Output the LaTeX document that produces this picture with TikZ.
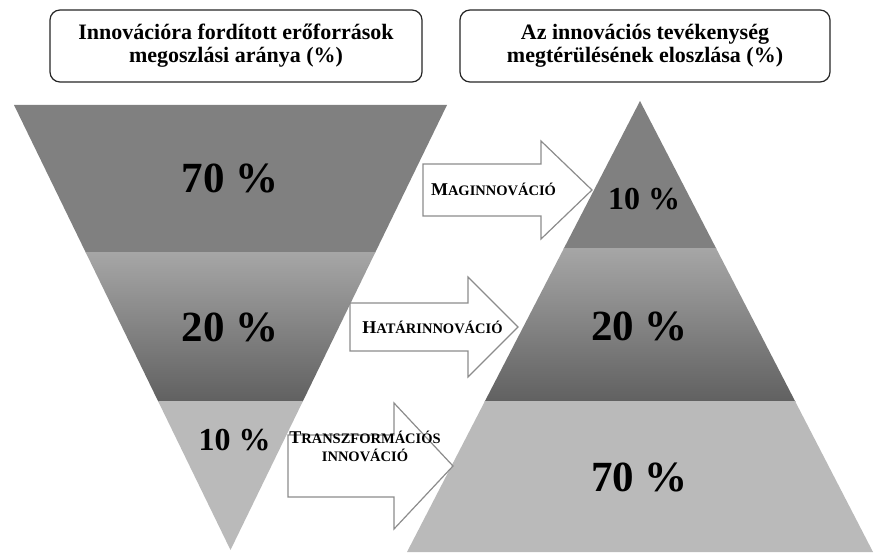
\documentclass[tikz,border=0pt]{standalone}
\usepackage{fontspec}
\setmainfont{Liberation Serif}
\usetikzlibrary{positioning}

\definecolor{bandDark}{gray}{0.50}
\definecolor{bandMidTop}{gray}{0.65}
\definecolor{bandMidBot}{gray}{0.38}
\definecolor{bandLight}{gray}{0.73}
\definecolor{arrowEdge}{gray}{0.55}

% small caps by hand: first letter large, rest small
\newcommand{\fakesc}[2]{{\fontsize{18}{18}\selectfont #1}{\fontsize{14.5}{18}\selectfont #2}}

% block arrow: start x, head x, tip x, centre y, half body, half head
\newcommand{\innoarrow}[6]{%
  \draw[arrowbox] (#1,#4-#5) -- (#2,#4-#5) -- (#2,#4-#6) -- (#3,#4)
    -- (#2,#4+#6) -- (#2,#4+#5) -- (#1,#4+#5) -- cycle;}

\begin{document}
\begin{tikzpicture}[
            x=1pt, y=-1pt,
            title/.style={draw=black!85, line width=1.2pt, rounded corners=10pt, fill=white, minimum width=372pt, minimum height=72pt, align=center, font=\fontsize{22}{23}\selectfont\bfseries},
            pct/.style={font=\fontsize{43}{43}\selectfont\bfseries, inner sep=0pt},
            pctsmall/.style={font=\fontsize{32}{32}\selectfont\bfseries, inner sep=0pt},
            arrowbox/.style={draw=arrowEdge, line width=1.2pt, fill=white, line join=miter},
            arrowlabel/.style={font=\fontsize{14.5}{18}\selectfont\bfseries, align=center, inner sep=0pt, anchor=base}
        ]

        \useasboundingbox (0,0) rectangle (881,553);

        % titles
        \node[title] (leftTitle) at (236,46) {Innovációra fordított erőforrások\\megoszlási aránya (\%)};
        \node[title, minimum width=370pt] (rightTitle) at (645,46) {Az innovációs tevékenység\\megtérülésének eloszlása (\%)};

        % inverted triangle
        \begin{scope}
            \clip (14,105) -- (447,105) -- (230.5,550) -- cycle;
            \fill[bandDark] (0,100) rectangle (460,253);
            \shade[top color=bandMidTop, bottom color=bandMidBot] (0,253) rectangle (460,401);
            \fill[bandLight] (0,401) rectangle (460,553);
        \end{scope}

        % pyramid
        \begin{scope}
            \clip (640,101) -- (873,552) -- (407,552) -- cycle;
            \fill[bandDark] (400,95) rectangle (881,249);
            \shade[top color=bandMidTop, bottom color=bandMidBot] (400,249) rectangle (881,401);
            \fill[bandLight] (400,401) rectangle (881,553);
        \end{scope}

        \node[pct] (leftSeventy) at (230,178) {70 \%};
        \node[pct] (leftTwenty) at (230,327) {20 \%};
        \node[pctsmall] (leftTen) at (234.5,440) {10 \%};

        \node[pctsmall] (rightTen) at (644,199) {10 \%};
        \node[pct] (rightTwenty) at (639.5,326) {20 \%};
        \node[pct] (rightSeventy) at (639.5,477) {70 \%};

        % arrows
        \innoarrow{423}{541}{592}{190}{26}{49}
        \innoarrow{350}{468}{518}{327}{24}{50}
        \innoarrow{288}{394}{453}{466}{31}{63}

        \node[arrowlabel] (coreLabel) at (493.5,196) {\fakesc{M}{AGINNOVÁCIÓ}};
        \node[arrowlabel] (edgeLabel) at (432.5,334) {\fakesc{H}{ATÁRINNOVÁCIÓ}};
        \node[arrowlabel] (transLabel) at (365,461) {\fakesc{T}{RANSZFORMÁCIÓS}\\INNOVÁCIÓ};

        \end{tikzpicture}
\end{document}
